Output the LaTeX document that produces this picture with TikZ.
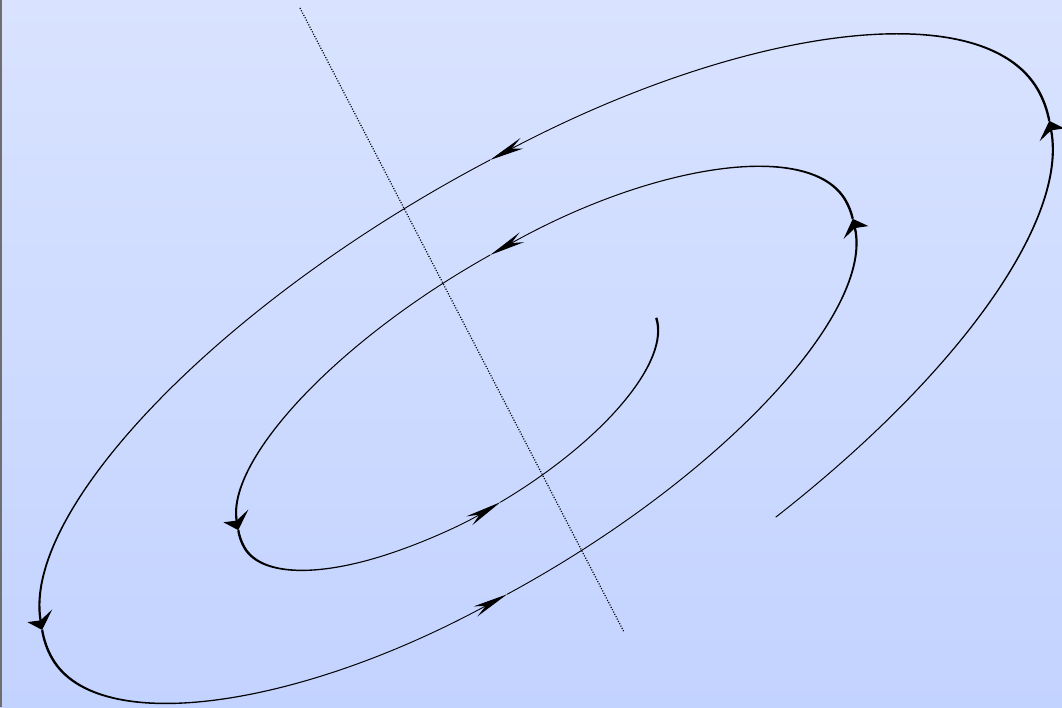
\documentclass[tikz,border=0pt]{standalone}
\usepackage{tikz}
\usetikzlibrary{arrows.meta}
\definecolor{bgtop}{HTML}{D9E3FF}
\definecolor{bgbottom}{HTML}{C3D3FF}
\definecolor{edgegray}{HTML}{6E6E6E}

\begin{document}
\begin{tikzpicture}[
    orbit/.style={line width=0.12pt, black},
    flow/.style={orbit, -{Stealth[length=1.8pt, width=1.4pt]}},
    cut/.style={line width=0.35pt, dash pattern=on 0.3pt off 0.45pt}
  ]
  \useasboundingbox (0,0) rectangle (10.62,7.07);
  \shade[top color=bgtop, bottom color=bgbottom] (0,0) rectangle (10.62,7.07);
  \draw[edgegray, line width=0.55pt] (0.01,0) -- (0.01,7.07);
  % dotted section line
  \coordinate (cutA) at (3.00,6.99);
  \coordinate (cutB) at (6.24,0.75);
  \draw[cut] (cutA) -- (cutB);
  % spiral round a circle, squeezed into the tilted ellipse
  \begin{scope}[transform canvas={shift={(5.45,3.33)}, rotate=30, xscale=5.69, yscale=2.14}]
    \draw[flow] ([shift={(-0.195,0)}]-69.4:1.195) arc[start angle=-69.4, end angle=-7.4, radius=1.195] coordinate (a1);
    \draw[flow] (a1) arc[start angle=-7.4, end angle=0, radius=1.195] arc[start angle=0, end angle=84, radius=1] coordinate (a2);
    \draw[flow] (a2) arc[start angle=84, end angle=172, radius=1] coordinate (a3);
    \draw[flow] (a3) arc[start angle=172, end angle=180, radius=1] arc[start angle=180, end angle=266, radius=0.805] coordinate (a4);
    \draw[flow] (a4) arc[start angle=266, end angle=353.5, radius=0.805] coordinate (a5);
    \draw[flow] (a5) arc[start angle=353.5, end angle=360, radius=0.805] arc[start angle=0, end angle=88, radius=0.61] coordinate (a6);
    \draw[flow] (a6) arc[start angle=88, end angle=172, radius=0.61] coordinate (a7);
    \draw[flow] (a7) arc[start angle=172, end angle=180, radius=0.61] arc[start angle=180, end angle=272, radius=0.415] coordinate (a8);
    \draw[orbit] (a8) arc[start angle=272, end angle=355.5, radius=0.415];
  \end{scope}
\end{tikzpicture}
\end{document}
